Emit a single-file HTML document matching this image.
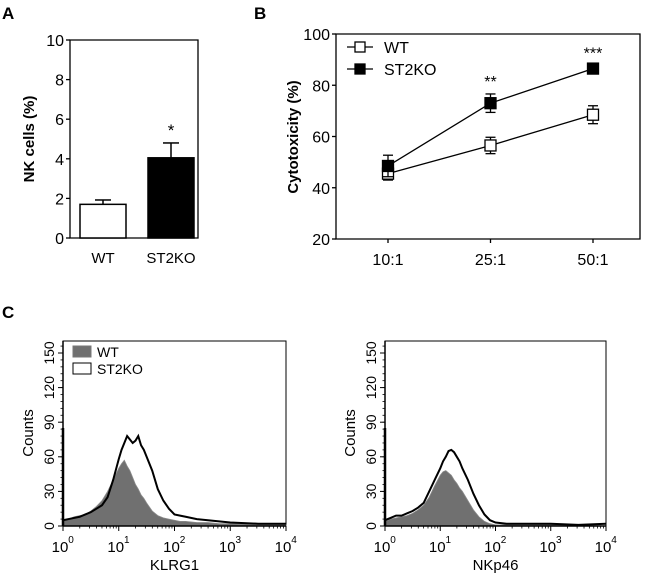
<!DOCTYPE html>
<html><head><meta charset="utf-8"><style>
body{margin:0;background:#fff}
svg{display:block;font-family:"Liberation Sans",Arial,sans-serif}
</style></head><body>
<svg id="fig" width="650" height="582" viewBox="0 0 650 582">
<text x="2" y="19" font-size="17" font-weight="bold">A</text>
<text x="254" y="19" font-size="17" font-weight="bold">B</text>
<text x="2" y="318" font-size="17" font-weight="bold">C</text>
<g id="pa"></g>
<g id="pb"></g>
<g id="pc1"></g>
<g id="pc2"></g>
</svg>
<script>
// Panel A data
const barCats = ["WT","ST2KO"];
const barVals = [1.7, 4.05];
const barErr = [0.22, 0.75];
const barTicks = [0,2,4,6,8,10];
// Panel B data
const lineCats = ["10:1","25:1","50:1"];
const wtVals = [45.5, 56.5, 68.5];
const wtErr = [2.5, 3.2, 3.5];
const koVals = [48.5, 73, 86.5];
const koErr = [4.2, 3.6, 1.2];
const lineTicks = [20,40,60,80,100];
const lineStars = ["", "**", "***"];
// Panel C data (log10 intensity, counts)
const klrgX = [0,0.1,0.2,0.3,0.4,0.5,0.6,0.7,0.8,0.9,1.0,1.05,1.1,1.15,1.2,1.25,1.3,1.35,1.4,1.45,1.5,1.6,1.7,1.8,1.9,2.0,2.1,2.2,2.4,2.6,2.8,3.0,3.5,4.0];
const klrgWT = [5,6,8,9,10,13,17,22,30,40,50,54,57,52,48,42,36,32,27,24,20,13,9,7,6,5,4,4,3,3,2,2,1,1];
const klrgKO = [5,6,7,8,10,12,15,18,25,40,58,66,72,78,75,72,74,78,70,66,60,48,32,22,15,10,9,8,6,5,4,3,2,2];
const nkX = [0,0.1,0.2,0.3,0.4,0.5,0.6,0.7,0.8,0.9,1.0,1.05,1.1,1.15,1.2,1.25,1.3,1.35,1.4,1.5,1.6,1.7,1.8,1.9,2.0,2.2,2.5,3.0,3.5,4.0];
const nkWT = [4,6,7,8,9,11,14,18,25,35,44,47,48,46,44,40,37,33,30,22,14,8,4,2,1,1,1,1,1,0];
const nkKO = [5,7,9,9,11,13,16,20,30,40,50,56,60,65,66,64,60,56,50,40,28,18,10,5,3,2,2,2,1,2];
const histTicks = [0,30,60,90,120,150];
const decades = [0,1,2,3,4];

const NS="http://www.w3.org/2000/svg";
function mk(parent, tag, attrs, name){
  const el=document.createElementNS(NS,tag);
  for(const k in attrs) el.setAttribute(k,attrs[k]);
  
  
  parent.appendChild(el);return el;
}
// ---- Panel A
(function(){
  const g=document.getElementById('pa');
  const x0=70,x1=198,y0=238,y1=40;
  const y=v=>y0-(v/10)*(y0-y1);
  const bx=[80,148], bw=46;
  mk(g,'path',{d:`M${x0},${y1}H${x1}V${y0}H${x0}Z`,fill:'none',stroke:'#000','stroke-width':1.3},'axis-box');
  barTicks.forEach(t=>{
    mk(g,'line',{x1:x0-4,x2:x0,y1:y(t),y2:y(t),stroke:'#000','stroke-width':1.3},'y-tick');
    const tx=mk(g,'text',{x:x0-6,y:y(t)+6,'font-size':16,'text-anchor':'end'},'y-tick-label');tx.textContent=t;
  });
  barCats.forEach((c,i)=>{
    const cx=bx[i]+bw/2;
    mk(g,'line',{x1:cx,x2:cx,y1:y(barVals[i]),y2:y(barVals[i]+barErr[i]),stroke:'#000','stroke-width':1.5},'error-bar');
    mk(g,'line',{x1:cx-8,x2:cx+8,y1:y(barVals[i]+barErr[i]),y2:y(barVals[i]+barErr[i]),stroke:'#000','stroke-width':1.5},'error-cap');
    mk(g,'rect',{x:bx[i],y:y(barVals[i]),width:bw,height:y0-y(barVals[i]),fill:i?'#000':'#fff',stroke:'#000','stroke-width':1.5},'bar-'+c.toLowerCase());
    const t=mk(g,'text',{x:cx,y:263,'font-size':15,'text-anchor':'middle'},'x-label');t.textContent=c;
  });
  const s=mk(g,'text',{x:171,y:y(barVals[1]+barErr[1])-7,'font-size':17,'text-anchor':'middle'},'significance-star');s.textContent='*';
  const yl=mk(g,'text',{x:0,y:0,'font-size':15,'font-weight':'bold','text-anchor':'middle',transform:`translate(34,139) rotate(-90)`},'y-axis-title');yl.textContent='NK cells (%)';
})();
// ---- Panel B
(function(){
  const g=document.getElementById('pb');
  const x0=336,x1=640,y0=239,y1=34;
  const y=v=>y0-((v-20)/80)*(y0-y1);
  const xs=i=>388+i*102.5;
  mk(g,'path',{d:`M${x0},${y1}H${x1}V${y0}H${x0}Z`,fill:'none',stroke:'#000','stroke-width':1.3},'axis-box');
  lineTicks.forEach(t=>{
    mk(g,'line',{x1:x0-4,x2:x0,y1:y(t),y2:y(t),stroke:'#000','stroke-width':1.3},'y-tick');
    const tx=mk(g,'text',{x:x0-6,y:y(t)+6,'font-size':16,'text-anchor':'end'},'y-tick-label');tx.textContent=t;
  });
  lineCats.forEach((c,i)=>{
    mk(g,'line',{x1:xs(i),x2:xs(i),y1:y0,y2:y0+4,stroke:'#000','stroke-width':1.3},'x-tick');
    const t=mk(g,'text',{x:xs(i),y:265,'font-size':16,'text-anchor':'middle'},'x-tick-label');t.textContent=c;
    const st=mk(g,'text',{x:xs(i),y:y(koVals[i]+koErr[i])-7,'font-size':16,'text-anchor':'middle'},'significance-star');st.textContent=lineStars[i];
  });
  [[wtVals,wtErr,'#fff','wt'],[koVals,koErr,'#000','st2ko']].forEach(([v,e,f,n])=>{
    mk(g,'polyline',{points:v.map((d,i)=>xs(i)+','+y(d)).join(' '),fill:'none',stroke:'#000','stroke-width':1.3},'line-'+n);
    v.forEach((d,i)=>{
      mk(g,'line',{x1:xs(i),x2:xs(i),y1:y(d-e[i]),y2:y(d+e[i]),stroke:'#000','stroke-width':1.3},'error-bar');
      [d-e[i],d+e[i]].forEach(q=>mk(g,'line',{x1:xs(i)-5,x2:xs(i)+5,y1:y(q),y2:y(q),stroke:'#000','stroke-width':1.3},'error-cap'));
      mk(g,'rect',{x:xs(i)-5.5,y:y(d)-5.5,width:11,height:11,fill:f,stroke:'#000','stroke-width':1.3},'point-'+n);
    });
  });
  [['WT','#fff',47],['ST2KO','#000',69]].forEach(([l,f,yy])=>{
    mk(g,'line',{x1:347,x2:373,y1:yy,y2:yy,stroke:'#000','stroke-width':1.3},'legend-line');
    mk(g,'rect',{x:355,y:yy-5,width:10,height:10,fill:f,stroke:'#000','stroke-width':1.3},'legend-marker');
    const t=mk(g,'text',{x:384,y:yy+6,'font-size':16},'legend-label');t.textContent=l;
  });
  const yl=mk(g,'text',{x:0,y:0,'font-size':15,'font-weight':'bold','text-anchor':'middle',transform:`translate(298,137) rotate(-90)`},'y-axis-title');yl.textContent='Cytotoxicity (%)';
})();
// ---- Panel C
function hist(id,x0,x1,xs,wt,ko,label,legend){
  const g=document.getElementById(id);
  const y0=526,y1=341;
  const y=v=>y0-v*(173/150);
  const x=l=>x0+l*(x1-x0)/4;
  mk(g,'rect',{x:x0,y:y1,width:x1-x0,height:y0-y1,fill:'#fff',stroke:'#000','stroke-width':1},'plot-box');
  let d=`M${x(xs[0])},${y0}`;xs.forEach((l,i)=>d+=`L${x(l)},${y(wt[i])}`);d+=`L${x(xs[xs.length-1])},${y0}Z`;
  mk(g,'path',{d:d,fill:'#707070',stroke:'#8a8a8a','stroke-width':0.8},'histogram-wt');
  mk(g,'polyline',{points:xs.map((l,i)=>x(l)+','+y(ko[i])).join(' '),fill:'none',stroke:'#000','stroke-width':2},'histogram-st2ko');
  mk(g,'line',{x1:x0,x2:x0,y1:y0,y2:y(85),stroke:'#000','stroke-width':2.5},'first-bin-spike');
  mk(g,'line',{x1:x0,x2:x0,y1:y0,y2:y1,stroke:'#000','stroke-width':1.5},'y-axis');
  mk(g,'line',{x1:x0,x2:x1,y1:y0,y2:y0,stroke:'#000','stroke-width':1.5},'x-axis');
  histTicks.forEach(t=>{
    mk(g,'line',{x1:x0-5,x2:x0,y1:y(t),y2:y(t),stroke:'#000','stroke-width':1},'y-tick');
    const tx=mk(g,'text',{x:0,y:0,'font-size':14,'text-anchor':'middle',transform:`translate(${x0-9},${y(t)}) rotate(-90)`},'y-tick-label');tx.textContent=t;
  });
  for(let v=0;v<=156;v+=6) mk(g,'line',{x1:x0-2.5,x2:x0,y1:y(v),y2:y(v),stroke:'#000','stroke-width':0.8},'y-minor-tick');
  decades.forEach(k=>{
    mk(g,'line',{x1:x(k),x2:x(k),y1:y0,y2:y0+5,stroke:'#000','stroke-width':1},'x-tick');
    for(let m=2;m<10&&k<4;m++) mk(g,'line',{x1:x(k+Math.log10(m)),x2:x(k+Math.log10(m)),y1:y0,y2:y0+2.5,stroke:'#000','stroke-width':0.8},'x-minor-tick');
    const t=mk(g,'text',{x:x(k)-3,y:552,'font-size':15,'text-anchor':'middle'},'x-tick-label');t.textContent='10';
    const s=mk(g,'text',{x:x(k)+8,y:543,'font-size':10,'text-anchor':'middle'},'x-tick-exponent');s.textContent=k;
  });
  const xl=mk(g,'text',{x:(x0+x1)/2,y:570,'font-size':15,'text-anchor':'middle'},'x-axis-title');xl.textContent=label;
  const yl=mk(g,'text',{x:0,y:0,'font-size':15,'text-anchor':'middle',transform:`translate(${x0-30},433) rotate(-90)`},'y-axis-title');yl.textContent='Counts';
  if(legend){
    [['WT','#707070',352],['ST2KO','#fff',369]].forEach(([l,f,yy])=>{
      mk(g,'rect',{x:73,y:yy-6,width:18,height:11,fill:f,stroke:f==='#fff'?'#000':'#777','stroke-width':1},'legend-swatch');
      const t=mk(g,'text',{x:97,y:yy+5,'font-size':14},'legend-label');t.textContent=l;
    });
  }
}
hist('pc1',63,286,klrgX,klrgWT,klrgKO,'KLRG1',true);
hist('pc2',385,606,nkX,nkWT,nkKO,'NKp46',false);
</script>
</body></html>
